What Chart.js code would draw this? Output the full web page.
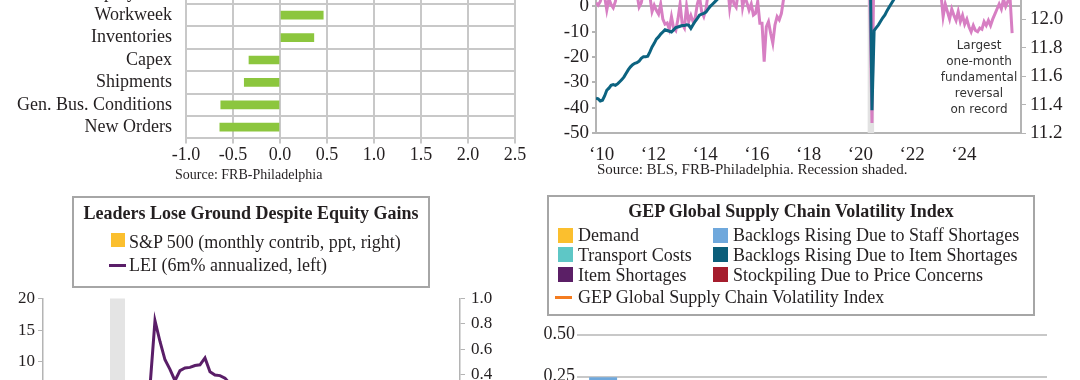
<!DOCTYPE html>
<html>
<head>
<meta charset="utf-8">
<script src="https://cdn.jsdelivr.net/npm/chart.js@4.4.1/dist/chart.umd.min.js"></script>
<style>
  html, body { margin: 0; padding: 0; background: #fff; }
  body { width: 1080px; height: 380px; overflow: hidden; position: relative;
         font-family: 'Liberation Serif', 'Times New Roman', serif; color: #231f20; }
  canvas { position: absolute; }
  .src { position: absolute; line-height: 16px; white-space: nowrap; }
  .box { position: absolute; border: 2px solid #a6a6a6; box-sizing: border-box; }
  .ttl { position: absolute; font-weight: bold; font-size: 18px; line-height: 20px; text-align: center; white-space: nowrap; }
  .item { position: absolute; font-size: 18px; line-height: 20px; white-space: nowrap; }
  .sw { position: absolute; }
  .note { position: absolute; font-family: 'DejaVu Sans', sans-serif; font-size: 12px; line-height: 16px;
          text-align: center; width: 120px; color: #333; }
</style>
</head>
<body>

<!-- top left: components -->
<canvas id="comp" width="540" height="220" style="left:0;top:-50px"></canvas>
<div class="src" style="left:175px;top:167px;font-size:14px">Source: FRB-Philadelphia</div>

<!-- top right: fundamentals vs payrolls -->
<canvas id="fund" width="540" height="280" style="left:540px;top:-120px"></canvas>
<div class="note" style="left:919px;top:37px">Largest<br>one-month<br>fundamental<br>reversal<br>on record</div>
<div class="src" style="left:597px;top:161px;font-size:15px">Source: BLS, FRB-Philadelphia. Recession shaded.</div>

<!-- bottom left: LEI -->
<canvas id="lei" width="540" height="310" style="left:0;top:270px"></canvas>
<div class="box" style="left:72px;top:196px;width:358px;height:92px"></div>
<div class="ttl" style="left:72px;top:203px;width:358px">Leaders Lose Ground Despite Equity Gains</div>
<div class="sw" style="left:111px;top:233px;width:14px;height:14px;background:#fbbf2e"></div>
<div class="item" style="left:129px;top:232px">S&amp;P 500 (monthly contrib, ppt, right)</div>
<div class="sw" style="left:109px;top:264px;width:17px;height:3px;background:#5a1e68"></div>
<div class="item" style="left:129px;top:255px">LEI (6m% annualized, left)</div>

<!-- bottom right: GEP -->
<canvas id="gep" width="540" height="230" style="left:540px;top:300px"></canvas>
<div class="box" style="left:547px;top:195px;width:488px;height:121px"></div>
<div class="ttl" style="left:547px;top:201px;width:488px">GEP Global Supply Chain Volatility Index</div>
<div class="sw" style="left:558px;top:228px;width:15px;height:15px;background:#fbbf2e"></div>
<div class="item" style="left:578px;top:225px">Demand</div>
<div class="sw" style="left:558px;top:247px;width:15px;height:15px;background:#5ec7c6"></div>
<div class="item" style="left:578px;top:245px">Transport Costs</div>
<div class="sw" style="left:558px;top:267px;width:15px;height:15px;background:#5b1f66"></div>
<div class="item" style="left:578px;top:265px">Item Shortages</div>
<div class="sw" style="left:713px;top:228px;width:15px;height:15px;background:#6fa8dc"></div>
<div class="item" style="left:733px;top:225px">Backlogs Rising Due to Staff Shortages</div>
<div class="sw" style="left:713px;top:247px;width:15px;height:15px;background:#0b5e7a"></div>
<div class="item" style="left:733px;top:245px">Backlogs Rising Due to Item Shortages</div>
<div class="sw" style="left:713px;top:267px;width:15px;height:15px;background:#a51d2d"></div>
<div class="item" style="left:733px;top:265px">Stockpiling Due to Price Concerns</div>
<div class="sw" style="left:555px;top:296px;width:17px;height:3px;background:#f47c20"></div>
<div class="item" style="left:578px;top:287px">GEP Global Supply Chain Volatility Index</div>

<script>
// ---------- data ----------
// Philly Fed future indicators, change (top row is cut off in the picture)
const COMP_LABELS = ['Employment', 'Workweek', 'Inventories', 'Capex', 'Shipments', 'Gen. Bus. Conditions', 'New Orders'];
const COMP_VALUES = [0.30, 0.46, 0.36, -0.33, -0.38, -0.63, -0.64];

// monthly, starting Aug 2009
const FUND_START = 2009 + 7 / 12;
const PHILLY_FUND = [
  1.5, 0.5, 2.0, 5, 4,
  -1.4, 3, 0.8, -0.5, 2, 7, 10, 14, 9, 12, 18, 22,
  20, 15, 5, -0.2, 1.5, 6, 9, 12, 4, -2, 0.5, -1.5,
  -3, 1, -5, -7, -6.5, -9, -4, -8.5, -9.5, -5, 1, -7,
  -8.5, 0, -6, -3.5, -6, -4.5, 1, 4, -2, -4, -1, 5,
  8, 6, 12, 15, 10, 18, 22, 14, 9, -0.6, 5, 1,
  -0.3, 6, 10, -0.3, 4, 1.5, -1.4, 1, -3.4, -2.7, 2, -6.6,
  -6.6, -21.8, -8, -6, -10.6, -14.5, -7.3, -4, -5.3, -2.7, 3, 9,
  25, 30, 28, 22, 26, 20, 24, 27, 30, 28, 32, 30,
  28, 26, 30, 25, 22, 28, 24, 20, 26, 22, 18, 15,
  12, 10, 14, 8, 12, 9, 15, 12, 10, 14, 11, 9,
  8, 12, 5, -46, 25, 35, 30, 28, 32, 30, 26, 24,
  28, 30, 35, 32, 30, 28, 25, 22, 20, 24, 26, 22,
  18, 15, 12, 10, 8, 6, 9, 7, 10, 8, 6, 5,
  -4, 1, -2, -5, -1, -3.5, -5.5, -2, -6, -3.5, -7, -5,
  -8, -10, -7.5, -9.5, -10, -8.5, -9, -6, -7.5, -5.5, -7.5, -5,
  -3, -1, 1, -1, 3, 0, 2, 4, -10.5
];
const PAYROLLS = [
  11.445, 11.44, 11.425, 11.43, 11.46,
  11.50, 11.515, 11.535, 11.54, 11.535, 11.545, 11.56, 11.575, 11.595, 11.62, 11.645, 11.665,
  11.68, 11.69, 11.695, 11.705, 11.725, 11.735, 11.735, 11.74, 11.77, 11.805, 11.83, 11.86,
  11.875, 11.895, 11.91, 11.925, 11.92, 11.915, 11.91, 11.925, 11.94, 11.945, 11.95, 11.955,
  11.955, 11.96, 11.958, 11.935, 11.96, 11.985, 12.005, 12.028, 12.035, 12.04, 12.05, 12.07,
  12.09, 12.105, 12.12, 12.135, 12.15, 12.16, 12.175, 12.19, 12.20, 12.215, 12.23, 12.24,
  12.25, 12.26, 12.275, 12.285, 12.295, 12.305, 12.315, 12.325, 12.335, 12.345, 12.355, 12.36,
  12.37, 12.38, 12.385, 12.395, 12.40, 12.41, 12.42, 12.425, 12.435, 12.44, 12.445, 12.455,
  12.46, 12.465, 12.47, 12.48, 12.485, 12.49, 12.50, 12.505, 12.51, 12.515, 12.52, 12.525,
  12.53, 12.535, 12.54, 12.545, 12.55, 12.555, 12.56, 12.565, 12.57, 12.575, 12.58, 12.585,
  12.59, 12.595, 12.60, 12.60, 12.605, 12.61, 12.615, 12.62, 12.62, 12.625, 12.63, 12.635,
  12.64, 12.645, 12.62, 11.36, 11.92, 11.94, 11.96, 11.985, 12.01, 12.03, 12.06, 12.085,
  12.11, 12.135, 12.16, 12.18, 12.21, 12.24, 12.27, 12.29, 12.31, 12.34, 12.36, 12.38,
  12.40, 12.42, 12.44, 12.455, 12.47, 12.48, 12.49, 12.50, 12.51, 12.52, 12.53, 12.535,
  12.545, 12.55, 12.555, 12.56, 12.565, 12.57, 12.575, 12.58, 12.585, 12.59, 12.59, 12.595,
  12.60, 12.605, 12.61, 12.61, 12.615, 12.62, 12.62, 12.625, 12.63, 12.63, 12.635, 12.64,
  12.64, 12.645, 12.645, 12.65, 12.65, 12.655, 12.655, 12.66, 12.66
];
const FUND_YEARS = [2010, 2012, 2014, 2016, 2018, 2020, 2022, 2024];
const RECESSION = [2020 + 1 / 12, 2020 + 4 / 12];

// monthly, starting Jan 2019
const LEI_START = 2019;
const LEI_6M = [
  1.0, 0.5, 0.8, 0.2, 0.5, -0.3, 0.1, -0.5, -0.8, -1.2, -1.0, -1.5,
  -0.8, -1.5, -9, -19, -18, -12, -4, -2, 1, 6, 16.5, 13.2,
  10.3, 8.8, 7.0, 8.6, 9.0, 9.1, 9.4, 9.5, 10.6, 8.4, 7.9, 7.8,
  7.4, 6.5, 5.0, 3.2, 1.5, -0.5, -2.5, -3.8, -4.5, -5.5, -6.8, -7.5,
  -7.8, -8.0, -7.6, -7.9, -7.2, -7.5, -6.8, -6.0, -5.5, -5.2, -5.0, -4.6,
  -4.0, -3.5, -3.2, -3.0, -3.6, -2.9, -2.6, -2.3, -2.8, -2.5, -2.0, -1.6,
  -1.2, -1.8, -2.6, -3.5, -3.2, -2.8, -3.0, -2.9, -3.3
];
const SP500_CONTRIB = [
  0.20, 0.10, 0.05, 0.12, -0.18, 0.22, 0.05, -0.06, 0.06, 0.07, 0.11, 0.09,
  0.08, -0.02, -0.35, -0.15, 0.12, 0.15, 0.16, 0.18, 0.05, 0.03, 0.10, 0.12,
  0.10, 0.08, 0.09, 0.13, 0.07, 0.06, 0.07, 0.08, 0.04, 0.06, 0.09, 0.05,
  -0.04, -0.08, -0.05, -0.10, -0.12, -0.14, -0.02, 0.01, -0.10, -0.03, 0.05, 0.02,
  0.03, 0.06, 0.01, 0.04, 0.05, 0.08, 0.09, 0.04, 0.02, -0.04, 0.06, 0.10,
  0.09, 0.10, 0.08, 0.03, 0.05, 0.07, 0.06, 0.05, 0.06, 0.05, 0.06, 0.04,
  0.05, 0.03, -0.06, -0.12, 0.04, 0.07, 0.08, 0.06, 0.05
];

// GEP index and its components (only the top of the first bar is in frame)
const GEP_MONTHS = ['Jan', 'Feb', 'Mar', 'Apr', 'May', 'Jun', 'Jul', 'Aug', 'Sep'];
const GEP_DEMAND = [0.06, 0.02, -0.03, -0.05, -0.04, -0.06, -0.03, -0.05, -0.04];
const GEP_TRANSPORT = [0.03, 0.01, -0.02, 0.00, -0.01, -0.02, -0.01, 0.00, -0.02];
const GEP_ITEM_SHORT = [0.04, 0.02, -0.01, -0.03, -0.02, -0.03, -0.02, -0.01, -0.02];
const GEP_STAFF_BACKLOG = [0.115, 0.05, 0.02, -0.01, 0.01, -0.02, 0.00, 0.01, -0.01];
const GEP_ITEM_BACKLOG = [-0.03, -0.02, -0.04, -0.05, -0.04, -0.06, -0.05, -0.04, -0.05];
const GEP_STOCKPILE = [-0.02, -0.01, -0.02, -0.03, -0.02, -0.03, -0.02, -0.02, -0.03];
const GEP_INDEX = [0.195, 0.07, -0.10, -0.17, -0.12, -0.22, -0.13, -0.11, -0.17];

// ---------- styles ----------
const INK = '#231f20';
const GRID = '#c8c8c8';
const AXIS = '#b4b4b4';

Chart.defaults.font.family = "'Liberation Serif', 'Times New Roman', serif";
Chart.defaults.color = INK;
Chart.defaults.animation = false;
Chart.defaults.plugins.legend.display = false;
Chart.defaults.plugins.tooltip.enabled = false;

function monthly(start, values) {
  return values.map((v, i) => ({ x: start + i / 12, y: v }));
}

// gray recession band behind the lines
const shadePlugin = {
  id: 'shade',
  beforeDatasetsDraw(chart, args, opts) {
    const { ctx, chartArea, scales } = chart;
    const x0 = scales.x.getPixelForValue(opts.from);
    const x1 = scales.x.getPixelForValue(opts.to);
    ctx.save();
    ctx.fillStyle = opts.color;
    ctx.fillRect(x0, chartArea.top, x1 - x0, chartArea.bottom - chartArea.top);
    ctx.restore();
  }
};

// ---------- top left ----------
new Chart(document.getElementById('comp'), {
  type: 'bar',
  data: {
    labels: COMP_LABELS,
    datasets: [{ data: COMP_VALUES, backgroundColor: '#8cc63e', barThickness: 8 }]
  },
  options: {
    indexAxis: 'y',
    responsive: false,
    layout: { padding: { top: 31.6, right: 25, left: 0, bottom: 0 } },
    scales: {
      x: {
        min: -1, max: 2.5,
        ticks: { stepSize: 0.5, callback: v => v.toFixed(1), font: { size: 18 }, padding: 1, autoSkip: false },
        grid: { color: GRID, lineWidth: 2, tickLength: 5 },
        border: { color: GRID, width: 2 },
        afterFit: s => { s.height = 31.6; }
      },
      y: {
        ticks: { font: { size: 18 }, padding: 14, autoSkip: false },
        grid: { color: GRID, lineWidth: 2, drawTicks: false },
        border: { color: GRID, width: 2 },
        afterFit: s => { s.width = 186; }
      }
    }
  }
});

// ---------- top right ----------
const TICK_SHIFT = 0.2;
new Chart(document.getElementById('fund'), {
  type: 'line',
  data: {
    datasets: [
      { data: monthly(FUND_START, PAYROLLS), yAxisID: 'y1', borderColor: '#0c6380',
        borderWidth: 3, pointRadius: 0, order: 0 },
      { data: monthly(FUND_START, PHILLY_FUND), yAxisID: 'y', borderColor: '#d77fc3',
        borderWidth: 3, pointRadius: 0, order: 1 }
    ]
  },
  options: {
    responsive: false,
    layout: { padding: { top: 25.3, right: 0, left: 0, bottom: 0 } },
    plugins: { shade: { from: RECESSION[0], to: RECESSION[1], color: '#e2e2e2' } },
    scales: {
      x: {
        type: 'linear', min: FUND_START, max: 2026.01,
        afterBuildTicks: s => { s.ticks = FUND_YEARS.map(y => ({ value: y - TICK_SHIFT })); },
        ticks: { callback: (v, i) => '\u2018' + String(FUND_YEARS[i]).slice(2),
                 font: { size: 19 }, padding: 3, autoSkip: false, maxRotation: 0 },
        grid: { display: false },
        border: { color: AXIS, width: 2 },
        afterFit: s => { s.height = 27; }
      },
      y: {
        position: 'left', min: -50, max: 40,
        ticks: { stepSize: 10, font: { size: 19 }, padding: 3, autoSkip: false },
        grid: { color: c => (c.tick && c.tick.value === 0 ? AXIS : 'rgba(0,0,0,0)'),
                lineWidth: 2, tickColor: AXIS, tickLength: 4 },
        border: { color: AXIS, width: 2 },
        afterFit: s => { s.width = 56; }
      },
      y1: {
        position: 'right', min: 11.2, max: 12.8,
        ticks: { stepSize: 0.2, callback: v => v.toFixed(1), font: { size: 19 }, padding: 4, autoSkip: false },
        grid: { drawOnChartArea: false, color: AXIS, tickColor: AXIS, tickLength: 5 },
        border: { color: AXIS, width: 2 },
        afterFit: s => { s.width = 59; }
      }
    }
  },
  plugins: [shadePlugin]
});

// ---------- bottom left ----------
new Chart(document.getElementById('lei'), {
  type: 'bar',
  data: {
    datasets: [
      { type: 'line', data: monthly(LEI_START, LEI_6M), yAxisID: 'y', borderColor: '#5a1e68',
        borderWidth: 3, pointRadius: 0, order: 0 },
      { type: 'bar', data: monthly(LEI_START, SP500_CONTRIB), yAxisID: 'y1',
        backgroundColor: '#fbbf2e', barPercentage: 0.8, categoryPercentage: 1, order: 1 }
    ]
  },
  options: {
    responsive: false,
    layout: { padding: { top: 28.5, right: 0, left: 0, bottom: 28.7 } },
    plugins: { shade: { from: RECESSION[0], to: RECESSION[1], color: '#e4e4e4' } },
    scales: {
      x: { type: 'linear', min: 2018.967, max: 2025.917, display: false, offset: false },
      y: {
        position: 'left', min: -20, max: 20,
        ticks: { stepSize: 5, font: { size: 17 }, padding: 3, autoSkip: false },
        grid: { drawOnChartArea: false, color: AXIS, tickColor: AXIS, tickLength: 5 },
        border: { color: AXIS, width: 1.5 },
        afterFit: s => { s.width = 43; }
      },
      y1: {
        position: 'right', min: -1, max: 1,
        ticks: { stepSize: 0.2, callback: v => (Math.abs(v) < 1e-9 ? 0 : v).toFixed(1),
                 font: { size: 17 }, padding: 6, autoSkip: false },
        grid: { drawOnChartArea: false, color: AXIS, tickColor: AXIS, tickLength: 5 },
        border: { color: AXIS, width: 1.5 },
        afterFit: s => { s.width = 80; }
      }
    }
  },
  plugins: [shadePlugin]
});

// ---------- bottom right ----------
const gepBar = (data, color) => ({ type: 'bar', data: data, backgroundColor: color,
  barPercentage: 0.536, categoryPercentage: 1, stack: 'parts' });
new Chart(document.getElementById('gep'), {
  type: 'bar',
  data: {
    labels: GEP_MONTHS,
    datasets: [
      { type: 'line', data: GEP_INDEX, borderColor: '#f47c20', borderWidth: 3,
        pointRadius: 0, stack: 'index', order: -1 },
      gepBar(GEP_DEMAND, '#fbbf2e'),
      gepBar(GEP_TRANSPORT, '#5ec7c6'),
      gepBar(GEP_ITEM_SHORT, '#5b1f66'),
      gepBar(GEP_STAFF_BACKLOG, '#6fa8dc'),
      gepBar(GEP_ITEM_BACKLOG, '#0b5e7a'),
      gepBar(GEP_STOCKPILE, '#a51d2d')
    ]
  },
  options: {
    responsive: false,
    layout: { padding: { top: 34.5, right: 33, left: 0, bottom: 27.5 } },
    scales: {
      x: { stacked: true, display: false },
      y: {
        stacked: true, min: -0.5, max: 0.5,
        ticks: { stepSize: 0.25, callback: v => v.toFixed(2), font: { size: 18 }, padding: 2, autoSkip: false },
        grid: { color: GRID, lineWidth: 2, drawTicks: false },
        border: { display: false },
        afterFit: s => { s.width = 37; }
      }
    }
  }
});
</script>
</body>
</html>
